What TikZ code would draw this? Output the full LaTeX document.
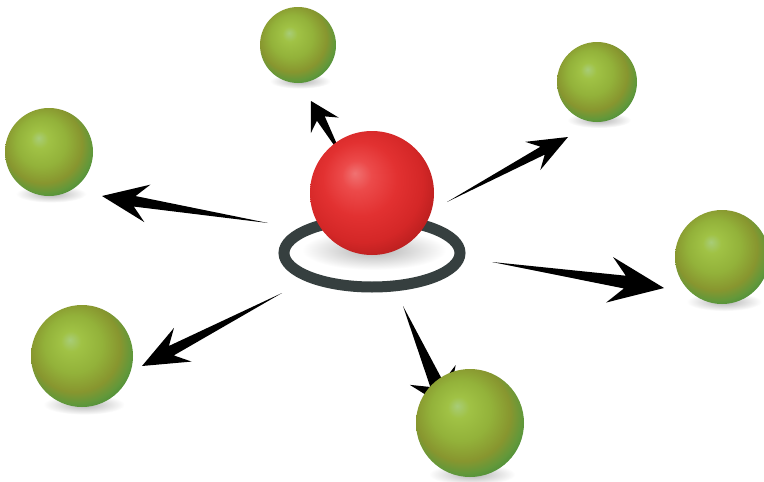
\documentclass[tikz,border=0pt]{standalone}
\usepackage{xcolor}
\usepackage{tikz}
\usetikzlibrary{calc}

\definecolor{ringgray}{HTML}{363F3F}
\definecolor{rA}{HTML}{F07272}
\definecolor{rB}{HTML}{EC4A4A}
\definecolor{rC}{HTML}{E23131}
\definecolor{rD}{HTML}{D42727}
\definecolor{rE}{HTML}{B51D1D}
\definecolor{gA}{HTML}{A8CC78}
\definecolor{gB}{HTML}{A0C245}
\definecolor{gC}{HTML}{93B23A}
\definecolor{gD}{HTML}{88962F}
\definecolor{gE}{HTML}{62983A}
\definecolor{gF}{HTML}{3F8A38}
% 球面渐变:高光在左上
\pgfdeclareradialshading{redball}{\pgfpoint{-7bp}{8bp}}{%
  color(0bp)=(rA); color(6bp)=(rB); color(15bp)=(rC);
  color(24bp)=(rD); color(31bp)=(rE); color(50bp)=(rE)}
\pgfdeclareradialshading{greenball}{\pgfpoint{-6bp}{8bp}}{%
  color(0bp)=(gA); color(5bp)=(gB); color(14bp)=(gC);
  color(22bp)=(gD); color(27bp)=(gE); color(32bp)=(gF); color(50bp)=(gF)}

% 锥形箭头: #1 尾, #2 尖, #3 箭头长, #4 半宽
\newcommand{\spike}[4]{%
  \fill[spikefill] (#1)
    -- ($(#2)!0.72*#3!(#1)!0.28*#4!90:(#1)$)
    -- ($(#2)!#3!(#1)!#4!90:(#1)$)
    -- (#2)
    -- ($(#2)!#3!(#1)!#4!-90:(#1)$)
    -- ($(#2)!0.72*#3!(#1)!0.28*#4!-90:(#1)$)
    -- cycle;}

\begin{document}
\begin{tikzpicture}[x=1pt, y=-1pt,
  ball/.style={circle, inner sep=0pt, shade, shading=#1},
  groundshade/.style={shade, inner color=black!30, outer color=white},
  ring/.style={draw=ringgray, line width=11pt},
  spikefill/.style={fill=black}]

\fill[white] (0,0) rectangle (764,482);
\useasboundingbox (0,0) rectangle (764,482);

% 地面阴影
\foreach \x/\y/\r in {298/45/38, 597/82/40, 49/152/44, 722/257/47, 82/356/51, 470/423/54}{
  \shade[groundshade] (\x+2, \y+0.95*\r) ellipse [x radius=0.8*\r, y radius=0.2*\r];}

% 中心环
\draw[ring] (372,253) ellipse [x radius=88, y radius=34];
\shade[groundshade] (374,250) ellipse [x radius=72, y radius=20];

% 箭头端点
\coordinate (t1) at (343,158); \coordinate (h1) at (311,101);
\coordinate (t2) at (447,202); \coordinate (h2) at (568,137);
\coordinate (t3) at (268,223); \coordinate (h3) at (102,196);
\coordinate (t4) at (492,262); \coordinate (h4) at (664,288);
\coordinate (t5) at (282,293); \coordinate (h5) at (142,366);
\coordinate (t6) at (403,306); \coordinate (h6) at (447,408);

\foreach \a/\l/\w in {1/28/16, 2/40/16, 3/46/19, 4/55/23, 5/46/19, 6/36/25}{
  \spike{t\a}{h\a}{\l pt}{\w pt}}

% 小球
\node[ball=greenball, minimum size=76pt]  (top)   at (298,45)  {};
\node[ball=greenball, minimum size=80pt]  (upr)   at (597,82)  {};
\node[ball=greenball, minimum size=88pt]  (left)  at (49,152)  {};
\node[ball=greenball, minimum size=94pt]  (right) at (722,257) {};
\node[ball=greenball, minimum size=102pt] (lowl)  at (82,356)  {};
\node[ball=greenball, minimum size=108pt] (bot)   at (470,423) {};

% 中心红球
\node[ball=redball, minimum size=124pt] (core) at (372,193) {};
\end{tikzpicture}
\end{document}
